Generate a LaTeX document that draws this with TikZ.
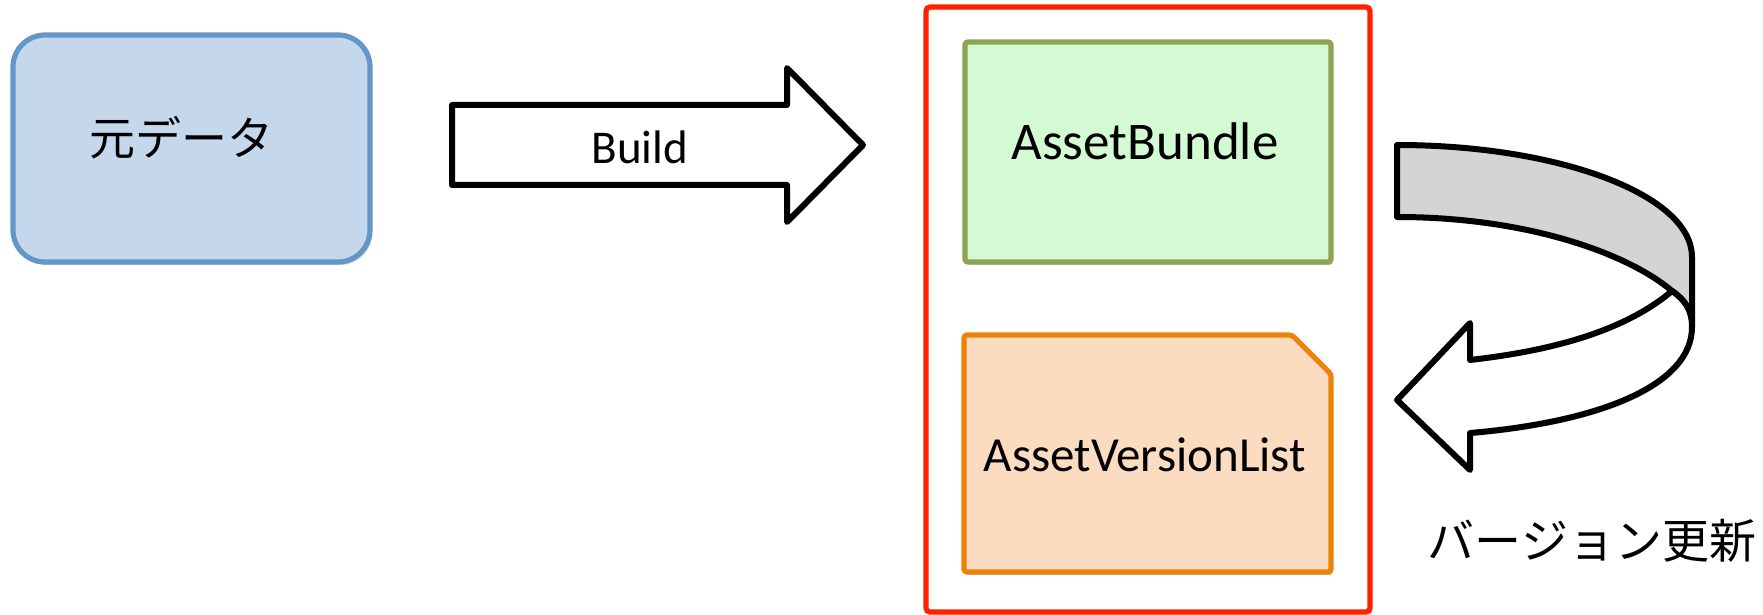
\documentclass[tikz,border=0pt]{standalone}
\usepackage{fontspec}
\setmainfont{Carlito}
\newfontfamily\jpfont{Noto Sans CJK JP}
\usetikzlibrary{shadows}

\definecolor{srcfill}{RGB}{197,216,235}
\definecolor{srcline}{RGB}{100,150,200}
\definecolor{bundlefill}{RGB}{212,250,212}
\definecolor{bundleline}{RGB}{139,165,82}
\definecolor{listfill}{RGB}{251,220,192}
\definecolor{listline}{RGB}{237,130,10}
\definecolor{framered}{RGB}{255,34,0}
\definecolor{bandgray}{RGB}{212,212,212}

\tikzset{
  softshadow/.style={drop shadow={shadow xshift=1pt, shadow yshift=-1.5pt, opacity=0.25, fill=black!70}},
  lineshadow/.style={preaction={draw=black!70, opacity=0.2, transform canvas={xshift=1pt, yshift=-1.5pt}}},
  latintext/.style={font=\fontsize{24.5}{28}\selectfont, inner sep=0pt},
  jptext/.style={font=\jpfont\fontsize{23}{26}\selectfont, inner sep=0pt},
  blockarrow/.style={draw=black, fill=white, line width=3pt, line join=round, softshadow},
}

\begin{document}
\begin{tikzpicture}[x=0.5pt, y=-0.5pt]
\useasboundingbox (0,0) rectangle (1763,615);

% source data box
\node[draw=srcline, fill=srcfill, line width=2.6pt, rounded corners=16pt,
      minimum width=178.5pt, minimum height=113.5pt, softshadow] (src) at (191.5,148.5) {};
\node[jptext] (srctext) at (182,138) {元データ};

% build arrow
\draw[blockarrow] (452,105) -- (787,105) -- (787,68) -- (863,145)
  -- (787,222) -- (787,185) -- (452,185) -- cycle;
\node[latintext, font=\fontsize{23.5}{27}\selectfont] (build) at (640,147) {Build};

% output frame
\draw[framered, line width=2.6pt, rounded corners=2pt, lineshadow] (926,7) rectangle (1370,612);

% bundle box
\node[draw=bundleline, fill=bundlefill, line width=2.6pt, rounded corners=1.5pt,
      minimum width=183pt, minimum height=110pt, softshadow] (bundle) at (1148,152) {};
\node[latintext, font=\fontsize{26.5}{30}\selectfont] (bundletext) at (1145,141) {AssetBundle};

% version list (note with cut corner)
\draw[draw=listline, fill=listfill, line width=2.6pt, rounded corners=1.5pt, softshadow]
  (964,335) -- (1292,335) -- (1331,374) -- (1331,572) -- (964,572) -- cycle;
\node[latintext] (list) at (1145,455) {AssetVersionList};

% update arrow: back side of the band
\draw[line width=3pt, line join=round, fill=bandgray, softshadow]
  (1397,145) .. controls (1559,145) and (1692,195) .. (1692,257) -- (1692,327)
  .. controls (1692,310) and (1685,300) .. (1672,291)
  .. controls (1630,255) and (1530,217) .. (1397,217) -- cycle;
% front side with the head
\draw[blockarrow]
  (1672,291) .. controls (1620,335) and (1540,352) .. (1470,360)
  -- (1470,323) -- (1397,400) -- (1470,470) -- (1470,433)
  .. controls (1600,422) and (1692,385) .. (1692,327)
  .. controls (1692,310) and (1685,300) .. (1672,291) -- cycle;
\node[jptext, font=\jpfont\fontsize{23.5}{27}\selectfont] (update) at (1592,541) {バージョン更新};

\end{tikzpicture}
\end{document}
